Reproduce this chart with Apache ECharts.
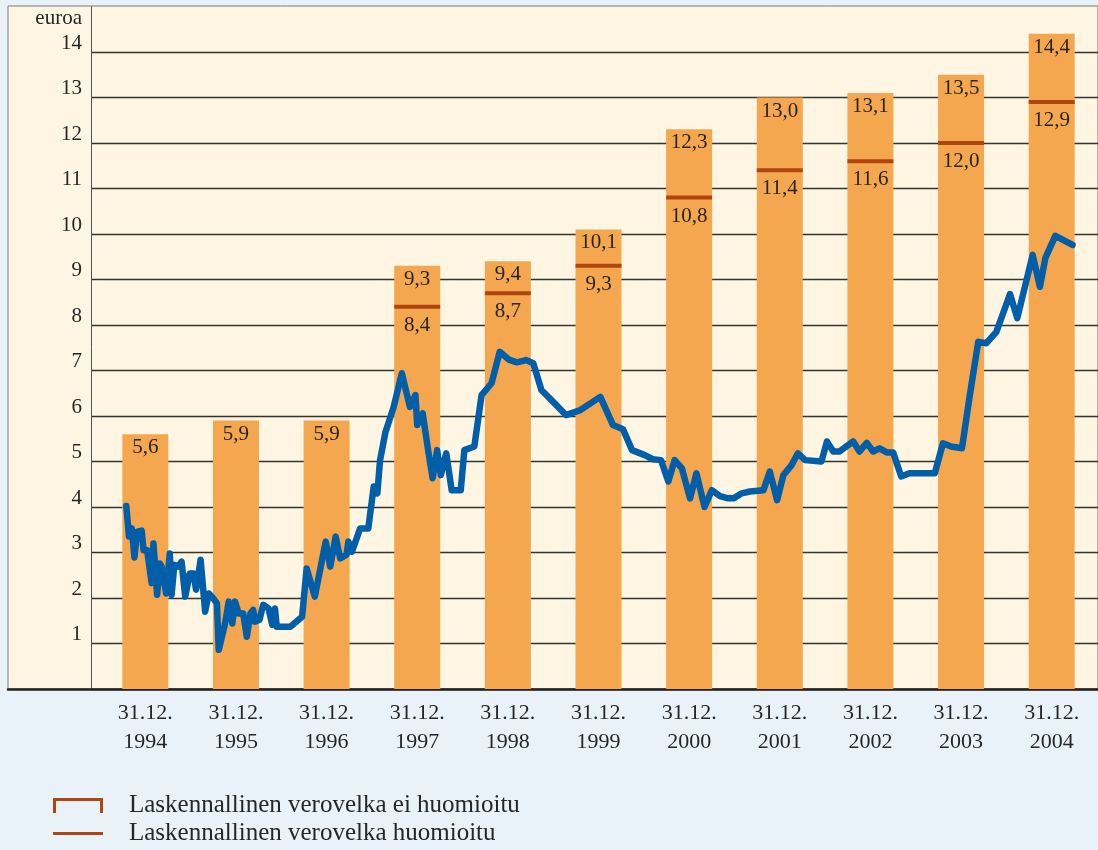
<!DOCTYPE html>
<html><head><meta charset="utf-8">
<script src="https://cdn.jsdelivr.net/npm/echarts@6/dist/echarts.min.js"></script>
<style>html,body{margin:0;padding:0;background:#e9f1f9;}#c{width:1098px;height:850px;}</style>
</head><body><div id="c"></div>
<script>
const categories = ['31.12.\n1994','31.12.\n1995','31.12.\n1996','31.12.\n1997','31.12.\n1998','31.12.\n1999','31.12.\n2000','31.12.\n2001','31.12.\n2002','31.12.\n2003','31.12.\n2004'];
const barValues = [5.6,5.9,5.9,9.3,9.4,10.1,12.3,13.0,13.1,13.5,14.4];
const markerValues = [null,null,null,8.4,8.7,9.3,10.8,11.4,11.6,12.0,12.9];
const yTickLabels = [1,2,3,4,5,6,7,8,9,10,11,12,13,14];
const legendNames = ['Laskennallinen verovelka ei huomioitu','Laskennallinen verovelka huomioitu'];
// line: time in years relative to 31.12.1994 (category centres = 0..10), share price in euro
const lineT = [-0.21,-0.18,-0.15,-0.12,-0.09,-0.04,-0.02,0.02,0.07,0.09,0.13,0.16,0.18,0.23,0.27,0.29,0.32,0.36,0.40,0.44,0.49,0.53,0.56,0.61,0.63,0.66,0.70,0.75,0.79,0.81,0.88,0.92,0.96,0.99,1.03,1.08,1.12,1.16,1.19,1.21,1.26,1.30,1.36,1.40,1.43,1.45,1.60,1.73,1.78,1.87,1.99,2.04,2.10,2.15,2.22,2.24,2.28,2.37,2.46,2.52,2.56,2.59,2.65,2.74,2.83,2.92,2.98,3.00,3.06,3.12,3.17,3.22,3.26,3.32,3.38,3.48,3.52,3.63,3.71,3.82,3.91,4.01,4.10,4.20,4.28,4.37,4.50,4.64,4.80,5.02,5.16,5.27,5.37,5.51,5.60,5.69,5.77,5.84,5.92,6.01,6.08,6.17,6.25,6.34,6.43,6.49,6.58,6.67,6.82,6.89,6.97,7.04,7.13,7.20,7.28,7.46,7.52,7.59,7.66,7.81,7.88,7.96,8.03,8.10,8.18,8.25,8.34,8.43,8.71,8.80,8.89,9.01,9.10,9.19,9.28,9.39,9.54,9.62,9.79,9.87,9.93,10.04,10.23];
const lineV = [4.02,3.35,3.53,2.89,3.46,3.48,3.05,3.05,2.33,3.20,2.07,2.76,2.69,2.10,2.98,2.07,2.73,2.69,2.80,2.03,2.54,2.54,2.18,2.84,2.84,1.70,2.10,1.99,1.88,0.86,1.44,1.92,1.44,1.92,1.66,1.66,1.15,1.66,1.74,1.48,1.52,1.85,1.77,1.41,1.77,1.37,1.37,1.59,2.65,2.03,3.24,2.69,3.35,2.87,2.95,3.24,3.02,3.53,3.53,4.45,4.30,5.03,5.65,6.20,6.94,6.20,6.46,5.80,6.06,5.25,4.63,5.25,4.70,5.18,4.37,4.37,5.25,5.33,6.46,6.72,7.41,7.24,7.18,7.23,7.16,6.57,6.31,6.02,6.13,6.42,5.80,5.71,5.25,5.14,5.05,5.03,4.56,5.03,4.85,4.19,4.74,4.00,4.37,4.24,4.19,4.19,4.30,4.34,4.37,4.78,4.15,4.70,4.92,5.18,5.03,5.00,5.44,5.22,5.22,5.44,5.22,5.41,5.22,5.29,5.20,5.20,4.67,4.74,4.74,5.40,5.33,5.29,6.50,7.63,7.60,7.85,8.68,8.15,9.54,8.84,9.47,9.96,9.76];

const FONT = "'Liberation Serif', 'DejaVu Serif', serif";
const TXT = '#262626';
const BAR = '#f4a74f';
const MARK = '#b0460f';
const LINE = '#005fa8';
const fmt = v => Number(v).toFixed(1).replace('.', ',');

const chart = echarts.init(document.getElementById('c'), null, {renderer: 'canvas'});
const splitColors = [];
for (let i = 0; i <= 15; i++) splitColors.push(i === 15 ? 'rgba(0,0,0,0)' : '#333');

const legendBase = {
  orient: 'vertical', left: 53, padding: 0, itemWidth: 50, itemHeight: 15, itemGap: 0,
  symbolKeepAspect: true, selectedMode: false,
  textStyle: {fontFamily: FONT, fontSize: 25, lineHeight: 22, color: TXT, padding: [0, 0, 0, 21]}
};

chart.setOption({
  animation: false,
  backgroundColor: '#e9f1f9',
  grid: [
    {left: 8, right: -3, top: 6, bottom: 161, show: true, backgroundColor: '#fef6e2', borderColor: '#7a7a7a', borderWidth: 1},
    {left: 91, right: 0, top: 6.5, bottom: 161},
    {left: 100, right: 1, top: 6.5, bottom: 161}
  ],
  xAxis: [
    {gridIndex: 0, type: 'value', min: 0, max: 1, axisLine: {show: true, lineStyle: {color: '#222', width: 2.5}}, axisTick: {show: false}, axisLabel: {show: false}, splitLine: {show: false}},
    {gridIndex: 2, type: 'category', data: categories, axisLine: {show: false}, axisTick: {show: false},
      axisLabel: {interval: 0, margin: 10, fontFamily: FONT, fontSize: 22, lineHeight: 29, color: TXT}},
    {gridIndex: 2, type: 'value', min: -0.5, max: 10.5, show: false},
    {gridIndex: 1, type: 'value', min: 0, max: 1, show: false}
  ],
  yAxis: [
    {gridIndex: 0, type: 'value', min: 0, max: 15, show: false},
    {gridIndex: 1, type: 'value', min: 0, max: 15, interval: 1,
      axisLine: {show: true, lineStyle: {color: '#555', width: 1}},
      axisTick: {show: false},
      splitLine: {show: true, lineStyle: {color: splitColors, width: 1.3}},
      axisLabel: {margin: 9, verticalAlign: 'bottom', lineHeight: 18, fontFamily: FONT, fontSize: 21, color: TXT,
        formatter: v => yTickLabels.indexOf(v) >= 0 ? String(v) : ''},
      name: 'euroa', nameLocation: 'end', nameGap: -12,
      nameTextStyle: {fontFamily: FONT, fontSize: 21, color: TXT, align: 'right', verticalAlign: 'middle', padding: [0, 9, 0, 0]}
    },
    {gridIndex: 2, type: 'value', min: 0, max: 15, show: false}
  ],
  legend: [
    Object.assign({}, legendBase, {top: 793, data: [
      {name: legendNames[0], icon: 'path://M0,0H50V15H47V3H3V15H0Z', itemStyle: {color: MARK, opacity: 1}}]}),
    Object.assign({}, legendBase, {top: 821, data: [
      {name: legendNames[1], icon: 'path://M0,0H50V3H0Z', itemStyle: {color: MARK, opacity: 1}}]})
  ],
  series: [
    {name: legendNames[0], type: 'bar', xAxisIndex: 1, yAxisIndex: 2, data: barValues, barWidth: 46,
      itemStyle: {color: BAR}, z: 2,
      label: {show: true, position: 'insideTop', distance: 3, formatter: p => fmt(p.value), fontFamily: FONT, fontSize: 21, color: TXT}},
    {name: legendNames[1], type: 'scatter', xAxisIndex: 1, yAxisIndex: 2,
      data: markerValues.map(v => v == null ? '-' : v), symbol: 'rect', symbolSize: [46, 4],
      itemStyle: {color: MARK, opacity: 1}, z: 3,
      label: {show: true, position: 'bottom', distance: 6, formatter: p => fmt(p.value), fontFamily: FONT, fontSize: 21, color: TXT}},
    {name: 'kurssi', type: 'line', xAxisIndex: 2, yAxisIndex: 2, data: lineT.map((t, i) => [t, lineV[i]]),
      showSymbol: false, symbol: 'none', z: 4,
      lineStyle: {color: LINE, width: 6.5, join: 'round', cap: 'round'}}
  ]
});
</script></body></html>
